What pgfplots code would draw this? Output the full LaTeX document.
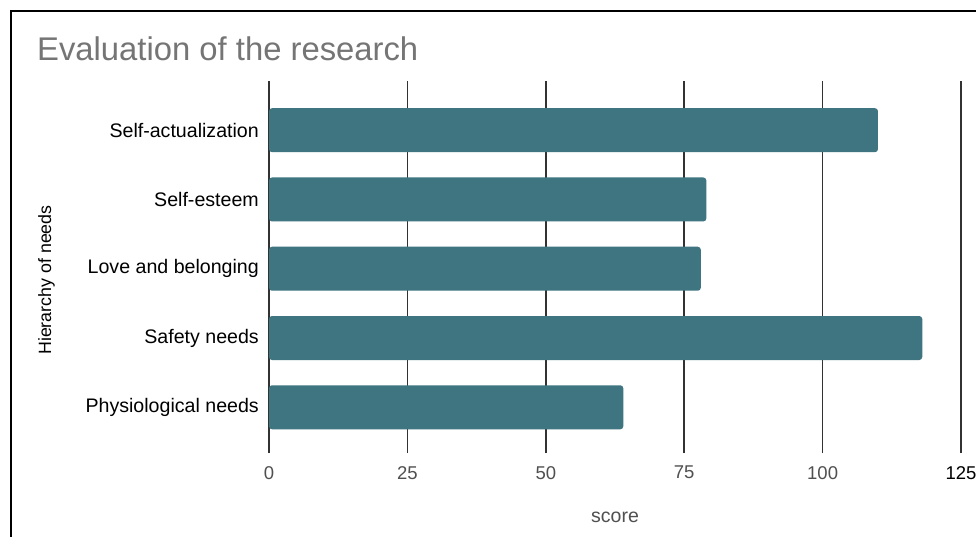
\documentclass[border=0pt]{standalone}
\usepackage{pgfplots}
\pgfplotsset{compat=1.18}
\usepackage{fontspec}
\setmainfont{Liberation Sans}
\definecolor{barteal}{RGB}{62,117,128}
\definecolor{titlegray}{RGB}{117,117,117}
\definecolor{tickgray}{RGB}{80,80,80}
\definecolor{gridgray}{RGB}{50,50,50}
\begin{document}
\begin{tikzpicture}
\useasboundingbox (0pt,0pt) rectangle (976pt,-536pt);
\clip (0pt,0pt) rectangle (976pt,-536pt);
\fill[white] (0pt,0pt) rectangle (976pt,-536pt);

% frame of the panel
\draw[black, line width=2.2pt] (10.7pt,-540pt) -- (10.7pt,-11pt) -- (980pt,-11pt);

% title
\node[anchor=base west, inner sep=0pt, text=titlegray,
      font=\fontsize{32.8}{38}\selectfont] at (37pt,-60pt) {Evaluation of the research};

\begin{axis}[
  at={(269pt,-453pt)}, anchor=south west,
  scale only axis, width=692pt, height=372pt,
  xbar, bar width=44pt,
  xmin=0, xmax=125, ymin=-0.66, ymax=4.71,
  xtick={0,25,50,75,100,125},
  xticklabels={0,25,50,75,100,{\color{black}125}},
  ytick={0,1,2,3,4},
  yticklabels={Physiological needs, Safety needs, Love and belonging, Self-esteem, Self-actualization},
  axis line style={draw=none},
  major tick length=0pt,
  tick style={draw=none},
  xmajorgrids, ymajorgrids=false,
  major grid style={gridgray, line width=1.5pt},
  xticklabel style={inner sep=0pt, anchor=north, yshift=-13pt, text=tickgray,
                    font=\fontsize{18.5}{22}\selectfont},
  yticklabel style={inner sep=0pt, anchor=east, xshift=-10pt, text=black,
                    font=\fontsize{19.6}{23}\selectfont},
  /pgf/number format/assume math mode=true,
  clip=false,
]
\addplot[fill=barteal, draw=none, rounded corners=3pt]
  coordinates {(64,0) (118,1) (78,2) (79,3) (110,4)};
\end{axis}

% axis titles
\node[anchor=base, inner sep=0pt, text=tickgray,
      font=\fontsize{19.5}{23}\selectfont] at (615pt,-522pt) {score};
\node[anchor=base, rotate=90, inner sep=0pt, text=black,
      font=\fontsize{17.8}{21}\selectfont] at (51pt,-280pt) {Hierarchy of needs};
\end{tikzpicture}
\end{document}
